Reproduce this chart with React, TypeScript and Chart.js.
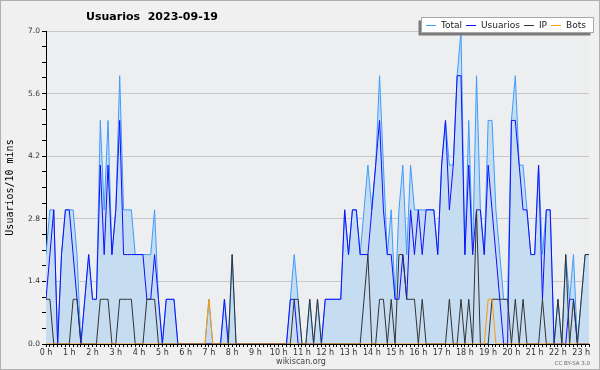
import { useEffect, useRef } from 'react';
import { Chart, registerables } from 'chart.js';

Chart.register(...registerables);

const TITLE = 'Usuarios  2023-09-19';
const Y_TITLE = 'Usuarios/10 mins';
const SERIES = ['Total', 'Usuarios', 'IP', 'Bots'];
const HOUR_LABELS = ['0 h', '1 h', '2 h', '3 h', '4 h', '5 h', '6 h', '7 h', '8 h', '9 h', '10 h', '11 h', '12 h', '13 h', '14 h', '15 h', '16 h', '17 h', '18 h', '19 h', '20 h', '21 h', '22 h', '23 h'];
const Y_TICK_VALUES = [0, 1.4, 2.8, 4.2, 5.6, 7.0];
const Y_TICK_LABELS = ['0.0', '1.4', '2.8', '4.2', '5.6', '7.0'];
const FOOTER = 'wikiscan.org';
const LICENSE = 'CC BY-SA 3.0';

// one value per 10-minute slot, starting at 00:00
const TOTAL = [
  2, 3, 3, 0, 2, 3, 3, 3, 2, 0,
  1, 2, 1, 1, 5, 3, 5, 2, 3, 6,
  3, 3, 3, 2, 2, 2, 2, 2, 3, 1,
  0, 1, 1, 1, 0, 0, 0, 0, 0, 0,
  0, 0, 1, 0, 0, 0, 1, 0, 2, 0,
  0, 0, 0, 0, 0, 0, 0, 0, 0, 0,
  0, 0, 0, 1, 2, 1, 0, 0, 1, 0,
  1, 0, 1, 1, 1, 1, 1, 3, 2, 3,
  3, 2, 3, 4, 3, 4, 6, 4, 2, 3,
  1, 3, 4, 2, 4, 3, 3, 3, 3, 3,
  3, 2, 4, 5, 4, 4, 6, 7, 2, 5,
  2, 6, 3, 2, 5, 5, 3, 2, 1, 1,
  5, 6, 4, 4, 3, 2, 2, 4, 2, 3,
  3, 0, 1, 0, 2, 1, 2, 0, 1, 2,
  2,
];
const USUARIOS = [
  1, 2, 3, 0, 2, 3, 3, 2, 1, 0,
  1, 2, 1, 1, 4, 2, 4, 2, 3, 5,
  2, 2, 2, 2, 2, 2, 1, 1, 2, 1,
  0, 1, 1, 1, 0, 0, 0, 0, 0, 0,
  0, 0, 0, 0, 0, 0, 1, 0, 0, 0,
  0, 0, 0, 0, 0, 0, 0, 0, 0, 0,
  0, 0, 0, 1, 1, 0, 0, 0, 0, 0,
  0, 0, 1, 1, 1, 1, 1, 3, 2, 3,
  3, 2, 2, 2, 3, 4, 5, 3, 2, 2,
  1, 1, 2, 1, 3, 2, 3, 2, 3, 3,
  3, 2, 4, 5, 3, 4, 6, 6, 2, 4,
  2, 3, 3, 2, 4, 3, 2, 1, 0, 0,
  5, 5, 4, 3, 3, 2, 2, 4, 1, 3,
  3, 0, 0, 0, 0, 1, 1, 0, 0, 0,
  0,
];
const IP = [
  1, 1, 0, 0, 0, 0, 0, 1, 1, 0,
  0, 0, 0, 0, 1, 1, 1, 0, 0, 1,
  1, 1, 1, 0, 0, 0, 1, 1, 1, 0,
  0, 0, 0, 0, 0, 0, 0, 0, 0, 0,
  0, 0, 0, 0, 0, 0, 0, 0, 2, 0,
  0, 0, 0, 0, 0, 0, 0, 0, 0, 0,
  0, 0, 0, 0, 1, 1, 0, 0, 1, 0,
  1, 0, 0, 0, 0, 0, 0, 0, 0, 0,
  0, 0, 1, 2, 0, 0, 1, 1, 0, 1,
  0, 2, 2, 1, 1, 1, 0, 1, 0, 0,
  0, 0, 0, 0, 1, 0, 0, 1, 0, 1,
  0, 3, 0, 0, 0, 1, 1, 1, 1, 1,
  0, 1, 0, 1, 0, 0, 0, 0, 1, 0,
  0, 0, 1, 0, 2, 0, 1, 0, 1, 2,
  2,
];
const BOTS = [
  0, 0, 0, 0, 0, 0, 0, 0, 0, 0,
  0, 0, 0, 0, 0, 0, 0, 0, 0, 0,
  0, 0, 0, 0, 0, 0, 0, 0, 0, 0,
  0, 0, 0, 0, 0, 0, 0, 0, 0, 0,
  0, 0, 1, 0, 0, 0, 0, 0, 0, 0,
  0, 0, 0, 0, 0, 0, 0, 0, 0, 0,
  0, 0, 0, 0, 0, 0, 0, 0, 0, 0,
  0, 0, 0, 0, 0, 0, 0, 0, 0, 0,
  0, 0, 0, 0, 0, 0, 0, 0, 0, 0,
  0, 0, 0, 0, 0, 0, 0, 0, 0, 0,
  0, 0, 0, 0, 0, 0, 0, 0, 0, 0,
  0, 0, 0, 0, 1, 1, 0, 0, 0, 0,
  0, 0, 0, 0, 0, 0, 0, 0, 0, 0,
  0, 0, 0, 0, 0, 0, 0, 0, 0, 0,
  0,
];

const COLORS = ['#3d9cff', '#1010ff', '#333333', '#ff9a00'];
const FILL = '#c6dcf0';
const FONT = '"DejaVu Sans", sans-serif';

const isMajor = (v: number) => Y_TICK_VALUES.some((m) => Math.abs(m - v) < 1e-6);

export default function App() {
  const ref = useRef<HTMLCanvasElement>(null);

  useEffect(() => {
    document.body.style.margin = '0';
    const canvas = ref.current!;
    const toPts = (arr: number[]) => arr.map((v, i) => ({ x: i, y: v }));
    const seriesData = [TOTAL, USUARIOS, IP, BOTS];

    const bgPlugin = {
      id: 'bg',
      beforeDraw(chart: any) {
        const { ctx, chartArea: a } = chart;
        ctx.save();
        ctx.fillStyle = '#f0f0f0';
        ctx.fillRect(0, 0, chart.width, chart.height);
        ctx.strokeStyle = '#b0b0b0';
        ctx.lineWidth = 1;
        ctx.strokeRect(0.5, 0.5, chart.width - 1, chart.height - 1);
        ctx.fillStyle = '#edeef0';
        ctx.fillRect(a.left, a.top, a.right - a.left, a.bottom - a.top);
        ctx.restore();
      },
    };

    const overlayPlugin = {
      id: 'overlay',
      afterDraw(chart: any) {
        const { ctx } = chart;
        ctx.save();
        // title
        ctx.fillStyle = '#000';
        ctx.font = `bold 11px ${FONT}`;
        ctx.textAlign = 'center';
        ctx.textBaseline = 'middle';
        ctx.fillText(TITLE, 152, 17);

        // legend
        const bx = 421.5, by = 17.5, bw = 172, bh = 15;
        ctx.fillStyle = '#7a7a7a';
        ctx.fillRect(bx - 3, by + 3, bw, bh);
        ctx.fillStyle = '#ffffff';
        ctx.fillRect(bx, by, bw, bh);
        ctx.strokeStyle = '#a8a8a8';
        ctx.lineWidth = 1;
        ctx.strokeRect(bx, by, bw, bh);
        ctx.font = `9px ${FONT}`;
        ctx.textAlign = 'left';
        ctx.textBaseline = 'middle';
        let x = 426;
        const ly = 25;
        SERIES.forEach((name, i) => {
          ctx.strokeStyle = COLORS[i];
          ctx.lineWidth = 1;
          ctx.beginPath();
          ctx.moveTo(x, ly + 0.5);
          ctx.lineTo(x + 10, ly + 0.5);
          ctx.stroke();
          ctx.fillStyle = '#222';
          ctx.fillText(name, x + 15, ly + 0.5);
          x += 15 + ctx.measureText(name).width + 4;
        });

        // footer
        ctx.fillStyle = '#444';
        ctx.font = `8px ${FONT}`;
        ctx.textAlign = 'center';
        ctx.fillText(FOOTER, 301, 362);
        ctx.font = `5.5px ${FONT}`;
        ctx.textAlign = 'right';
        ctx.fillStyle = '#666';
        ctx.fillText(LICENSE, 590, 364);
        ctx.restore();
      },
    };

    const chart = new Chart(canvas, {
      type: 'line',
      data: {
        datasets: SERIES.map((label, i) => ({
          label,
          data: toPts(seriesData[i]),
          borderColor: COLORS[i],
          backgroundColor: i === 0 ? FILL : COLORS[i],
          fill: i === 0 ? 'origin' : false,
          borderWidth: 1,
          pointRadius: 0,
          tension: 0,
          order: 4 - i,
        })),
      },
      options: {
        responsive: false,
        animation: false,
        events: [],
        layout: { padding: { left: 0, right: 11, top: 31, bottom: 10 } },
        plugins: {
          legend: { display: false },
          title: { display: false },
          tooltip: { enabled: false },
        },
        scales: {
          x: {
            type: 'linear',
            min: 0,
            max: TOTAL.length - 1,
            afterBuildTicks: (s: any) => {
              s.ticks = TOTAL.map((_, i) => ({ value: i }));
            },
            afterFit: (s: any) => {
              s.height = 16;
            },
            grid: { drawOnChartArea: false, drawTicks: true, tickLength: 3, tickColor: '#000' },
            border: { display: true, color: '#000', width: 1 },
            ticks: {
              autoSkip: false,
              maxRotation: 0,
              minRotation: 0,
              padding: 1,
              color: '#333',
              font: { family: FONT, size: 8 },
              callback: (v: any) => {
                const n = Math.round(Number(v));
                return n % 6 === 0 && HOUR_LABELS[n / 6] ? HOUR_LABELS[n / 6] : '';
              },
            },
          },
          y: {
            min: 0,
            max: 7,
            afterBuildTicks: (s: any) => {
              const t: any[] = [];
              for (let k = 0; k <= 20; k++) t.push({ value: k * 0.35 });
              s.ticks = t;
            },
            afterFit: (s: any) => {
              s.width = 46;
            },
            grid: {
              drawTicks: true,
              tickLength: 4,
              tickColor: '#000',
              color: (c: any) => (c.tick && isMajor(c.tick.value) ? '#c8c8c8' : 'rgba(0,0,0,0)'),
            },
            border: { display: true, color: '#000', width: 1 },
            title: {
              display: true,
              text: Y_TITLE,
              color: '#000',
              font: { family: '"DejaVu Sans Mono", monospace', size: 10 },
              padding: { top: 4, bottom: 0 },
            },
            ticks: {
              autoSkip: false,
              padding: 2,
              color: '#333',
              font: { family: FONT, size: 7.5 },
              callback: (v: any) => {
                const idx = Y_TICK_VALUES.findIndex((m) => Math.abs(m - Number(v)) < 1e-6);
                return idx >= 0 ? Y_TICK_LABELS[idx] : '';
              },
            },
          },
        },
      },
      plugins: [bgPlugin, overlayPlugin],
    } as any);

    return () => chart.destroy();
  }, []);

  return (
    <div style={{ position: 'absolute', left: 0, top: 0, width: 600, height: 370 }}>
      <canvas ref={ref} width={600} height={370} style={{ display: 'block', width: 600, height: 370 }} />
    </div>
  );
}
